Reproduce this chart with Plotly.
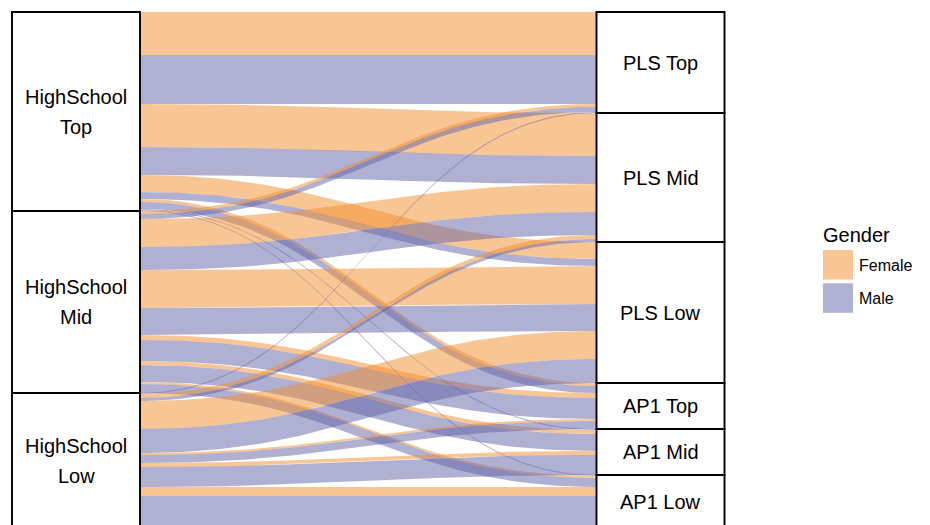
import numpy as np
import plotly.graph_objects as go

# ---------------- data ----------------
hs_levels = ["HighSchool Top", "HighSchool Mid", "HighSchool Low"]
outcome_levels = ["PLS Top", "PLS Mid", "PLS Low", "AP1 Top", "AP1 Mid", "AP1 Low"]
genders = ["Female", "Male"]

# counts[high-school level][outcome level]
female_counts = [
    [43, 43, 17, 3, 0, 0],
    [3, 28, 38, 5, 4, 2],
    [0, 4, 28, 2, 4, 9],
]
male_counts = [
    [49, 28, 7, 7, 1, 1],
    [5, 23, 27, 21, 17, 9],
    [1, 3, 24, 8, 20, 33],
]

# ---------------- styling ----------------
fill_colors = {"Female": "rgba(242,142,43,0.5)", "Male": "rgba(97,97,165,0.5)"}
FONT = "Liberation Sans, Arial, Helvetica, sans-serif"
W, H = 930, 525
OFF = 8  # page body margin offset in the screenshot
box_w = 0.219
x_axes = [1, 2]

counts = {"Female": female_counts, "Male": male_counts}
nh, no = len(hs_levels), len(outcome_levels)

# stratum totals & offsets
hs_tot = [sum(counts[g][i][j] for g in genders for j in range(no)) for i in range(nh)]
oc_tot = [sum(counts[g][i][j] for g in genders for i in range(nh)) for j in range(no)]
hs_off = np.concatenate([[0], np.cumsum(hs_tot)])
oc_off = np.concatenate([[0], np.cumsum(oc_tot)])

# lode positions
left_pos, right_pos = {}, {}
for i in range(nh):
    c = hs_off[i]
    for j in range(no):
        for g in genders:
            v = counts[g][i][j]
            left_pos[(i, j, g)] = (c, c + v)
            c += v
for j in range(no):
    c = oc_off[j]
    for i in range(nh):
        for g in genders:
            v = counts[g][i][j]
            right_pos[(i, j, g)] = (c, c + v)
            c += v


def curve(xa, xb, ya, yb, n=90, a=0.45):
    t = np.linspace(0, 1, n)
    d = xb - xa
    px = [xa, xa + a * d, xb - a * d, xb]
    py_ = [ya, ya, yb, yb]
    b = [(1 - t) ** 3, 3 * (1 - t) ** 2 * t, 3 * (1 - t) * t ** 2, t ** 3]
    x = sum(bk * p for bk, p in zip(b, px))
    y = sum(bk * p for bk, p in zip(b, py_))
    return x, y


fig = go.Figure()
xa = x_axes[0] + box_w / 2
xb = x_axes[1] - box_w / 2
for i in range(nh):
    for j in range(no):
        for g in genders:
            if counts[g][i][j] <= 0:
                continue
            lt, lb = left_pos[(i, j, g)]
            rt, rb = right_pos[(i, j, g)]
            x1, y1 = curve(xa, xb, lt, rt)
            x2, y2 = curve(xa, xb, lb, rb)
            xs = np.concatenate([x1, x2[::-1], [x1[0]]])
            ys = np.concatenate([y1, y2[::-1], [y1[0]]])
            fig.add_trace(go.Scatter(
                x=xs, y=ys, mode="lines", line=dict(width=0),
                fill="toself", fillcolor=fill_colors[g],
                hoverinfo="skip", showlegend=False))

shapes = []
annotations = []


def add_stratum(xc, y0, y1, label):
    shapes.append(dict(type="rect", xref="x", yref="y",
                       x0=xc - box_w / 2, x1=xc + box_w / 2, y0=y0, y1=y1,
                       fillcolor="white", line=dict(color="black", width=1.9),
                       layer="above"))
    words = label.split(" ")
    ym = (y0 + y1) / 2
    if len(words) == 2 and words[0] == "HighSchool":
        for k, wd in enumerate(words):
            annotations.append(dict(x=xc, y=ym + (k - 0.5) * 30, xref="x", yref="y",
                                    text=wd, showarrow=False,
                                    font=dict(family=FONT, size=20, color="black"),
                                    xanchor="center", yanchor="middle"))
    else:
        annotations.append(dict(x=xc, y=ym, xref="x", yref="y", text=label,
                                showarrow=False,
                                font=dict(family=FONT, size=20, color="black"),
                                xanchor="center", yanchor="middle"))


for i, lab in enumerate(hs_levels):
    add_stratum(x_axes[0], hs_off[i], hs_off[i + 1], lab)
for j, lab in enumerate(outcome_levels):
    add_stratum(x_axes[1], oc_off[j], oc_off[j + 1], lab)


# legend (drawn manually), positions given in screenshot pixels
def pxx(p):
    return (p - OFF) / W


def pyy(p):
    return 1 - (p - OFF) / H


annotations.append(dict(x=pxx(821), y=pyy(235), xref="paper", yref="paper", text="Gender",
                        showarrow=False, xanchor="left", yanchor="middle",
                        font=dict(family=FONT, size=20, color="black")))
for k, g in enumerate(genders):
    top = 250 + k * 33.3
    shapes.append(dict(type="rect", xref="paper", yref="paper",
                       x0=pxx(823), x1=pxx(853), y0=pyy(top), y1=pyy(top + 29.5),
                       fillcolor=fill_colors[g], line=dict(width=0)))
    annotations.append(dict(x=pxx(857), y=pyy(top + 15.5), xref="paper", yref="paper", text=g,
                            showarrow=False, xanchor="left", yanchor="middle",
                            font=dict(family=FONT, size=16, color="black")))

px_per_unit = 584.5
cx1 = 76 - OFF  # figure pixel of axis 1 centre
x_left = 1 - cx1 / px_per_unit
x_right = 1 + (W - cx1) / px_per_unit
top_px = 12 - OFF  # figure pixel of strata top

fig.update_layout(
    width=W, height=H,
    margin=dict(l=0, r=0, t=0, b=0),
    plot_bgcolor="white", paper_bgcolor="white",
    showlegend=False,
    xaxis=dict(range=[x_left, x_right], visible=False, fixedrange=True),
    yaxis=dict(range=[H - top_px, -top_px], visible=False, fixedrange=True),
    shapes=shapes, annotations=annotations,
)

fig.write_html("out.html")
